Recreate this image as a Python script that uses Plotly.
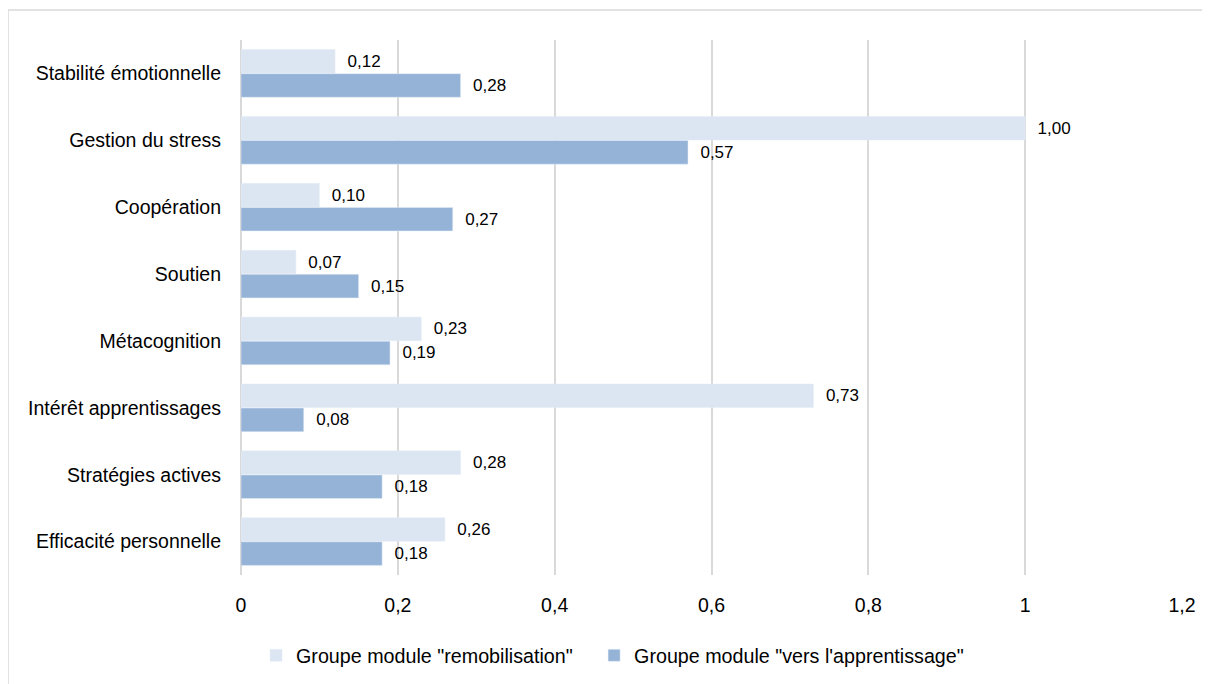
import plotly.graph_objects as go

categories = [
    "Stabilité émotionnelle",
    "Gestion du stress",
    "Coopération",
    "Soutien",
    "Métacognition",
    "Intérêt apprentissages",
    "Stratégies actives",
    "Efficacité personnelle",
]
remobilisation = [0.12, 1.00, 0.10, 0.07, 0.23, 0.73, 0.28, 0.26]
apprentissage = [0.28, 0.57, 0.27, 0.15, 0.19, 0.08, 0.18, 0.18]

FONT = "Liberation Sans Narrow, Arial Narrow, Liberation Sans, Arial"


def fmt(v):
    return "  " + f"{v:.2f}".replace(".", ",")


fig = go.Figure()

fig.add_trace(go.Bar(
    y=categories,
    x=remobilisation,
    orientation="h",
    name='Groupe module "remobilisation"' + "\u00a0" * 3,
    marker=dict(color="#dce6f2"),
    text=[fmt(v) for v in remobilisation],
    textposition="outside",
    textfont=dict(color="#000000", size=17),
    cliponaxis=False,
))

fig.add_trace(go.Bar(
    y=categories,
    x=apprentissage,
    orientation="h",
    name='Groupe module "vers l\'apprentissage"',
    marker=dict(color="#95b3d7"),
    text=[fmt(v) for v in apprentissage],
    textposition="outside",
    textfont=dict(color="#000000", size=17),
    cliponaxis=False,
))

fig.update_layout(
    width=1210,
    height=684,
    barmode="group",
    bargap=0.28,
    bargroupgap=0.02,
    separators=", ",
    font=dict(family=FONT, size=19.5, color="#000000"),
    plot_bgcolor="white",
    paper_bgcolor="white",
    margin=dict(l=233, r=36, t=32, b=117),
    legend=dict(
        orientation="h",
        x=0.016,
        xanchor="left",
        y=-0.114,
        yanchor="top",
        traceorder="normal",
        font=dict(size=19.7),
    ),
    shapes=[dict(
        type="rect",
        xref="paper", yref="paper",
        x0=-0.2476, x1=1.05, y0=-0.23, y1=1.056,
        line=dict(color="#d9d9d9", width=1.5),
    )],
)

fig.update_xaxes(
    range=[0, 1.2],
    dtick=0.2,
    showgrid=True,
    gridcolor="#d9d9d9",
    gridwidth=1.5,
    zeroline=True,
    zerolinecolor="#d9d9d9",
    zerolinewidth=1.5,
    showline=False,
    ticks="",
    ticklabelstandoff=16,
)
fig.update_yaxes(
    autorange="reversed",
    showgrid=False,
    showline=False,
    ticks="",
    ticklabelstandoff=19,
)

fig.write_html("out.html")
